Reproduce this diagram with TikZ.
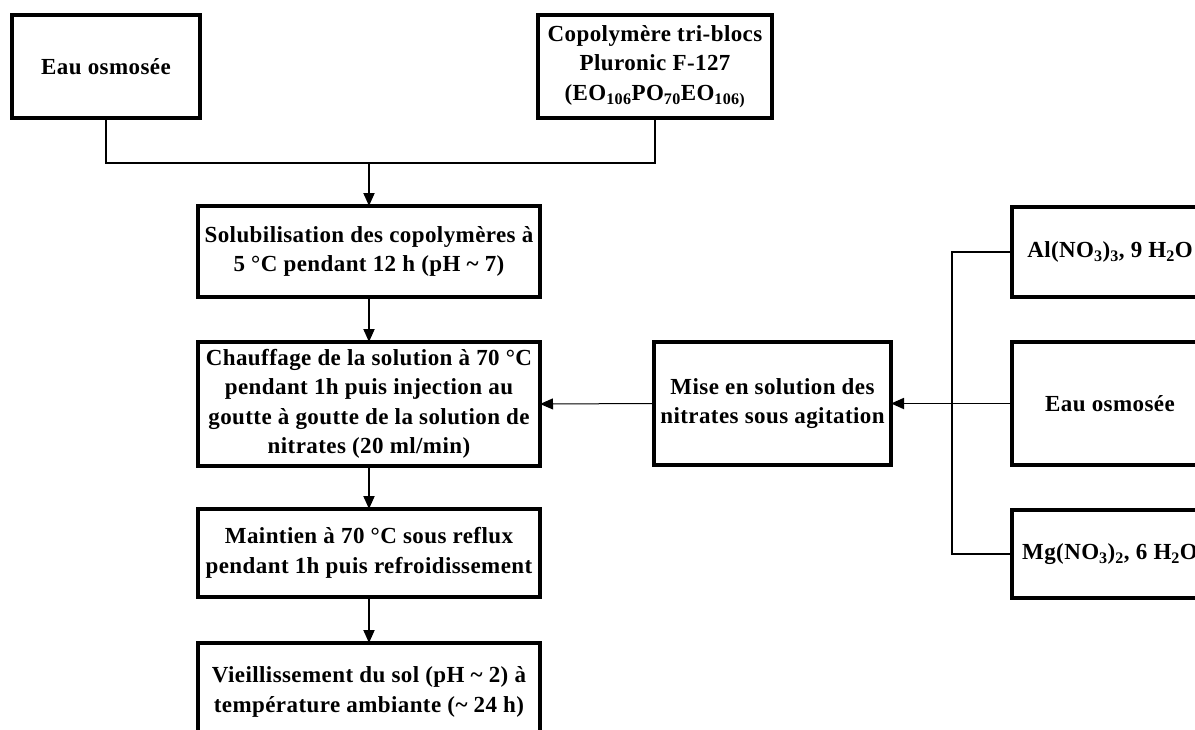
\documentclass[tikz,border=0pt]{standalone}
\usepackage{fontspec}
\setmainfont{Liberation Serif}[LetterSpace=1.8]
\usetikzlibrary{arrows.meta}
\tikzset{
  box/.style={draw, line width=3.2pt, rectangle, inner sep=0pt, outer sep=0pt, align=center,
    font=\bfseries\fontsize{23}{29.5}\selectfont},
  conn/.style={line width=1.8pt},
  thinconn/.style={line width=1pt},
  arr/.style={-{Triangle[length=13pt,width=11pt]}},
}
\begin{document}
\begin{tikzpicture}[x=1pt,y=-1pt]
\useasboundingbox (0,0) rectangle (1195,729);
\fill[white] (0,0) rectangle (1195,729);
\clip (0,0) rectangle (1195,729);

\node[box, minimum width=188pt, minimum height=103pt] (eau1) at (106,66.5) {Eau osmosée};
\node[box, minimum width=234pt, minimum height=103pt] (copo) at (655,66.5)
  {Copolymère tri-blocs\\Pluronic F-127\\(EO\textsubscript{106}PO\textsubscript{70}EO\textsubscript{106)}};
\node[box, minimum width=342pt, minimum height=91pt] (solu) at (369,251.5)
  {Solubilisation des copolymères à\\5 °C pendant 12 h (pH \char`\~{} 7)};
\node[box, minimum width=342pt, minimum height=124pt] (chauf) at (369,404)
  {Chauffage de la solution à 70 °C\\pendant 1h puis injection au\\goutte à goutte de la solution de\\nitrates (20 ml/min)};
\node[box, minimum width=342pt, minimum height=88pt] (maint) at (369,553)
  {Maintien à 70 °C sous reflux\\pendant 1h puis refroidissement};
\node[box, minimum width=342pt, minimum height=98pt] (vieil) at (369,692)
  {Vieillissement du sol (pH \char`\~{} 2) à\\température ambiante (\char`\~{} 24 h)};
\node[box, minimum width=237pt, minimum height=123pt] (mise) at (772.5,403.5)
  {Mise en solution des\\nitrates sous agitation};
\node[box, minimum width=196pt, minimum height=90pt] (al) at (1110,252)
  {Al(NO\textsubscript{3})\textsubscript{3}, 9 H\textsubscript{2}O};
\node[box, minimum width=196pt, minimum height=123pt] (eau2) at (1110,403.5) {Eau osmosée};
\node[box, minimum width=196pt, minimum height=88pt] (mg) at (1110,554)
  {Mg(NO\textsubscript{3})\textsubscript{2}, 6 H\textsubscript{2}O};

\coordinate (j1) at (369,163);
\draw[conn] (eau1.south) |- (j1) -| (copo.south);
\draw[conn, arr] (j1) -- (solu.north);
\draw[conn, arr] (solu.south) -- (chauf.north);
\draw[conn, arr] (chauf.south) -- (maint.north);
\draw[conn, arr] (maint.south) -- (vieil.north);
\draw[thinconn, arr] (mise.west) -- (chauf.east);
\draw[conn, arr] (eau2.west) -- (mise.east);
\coordinate (bar) at (952,403.5);
\draw[conn] (al.west) -| (bar) |- (mg.west);
\end{tikzpicture}
\end{document}
